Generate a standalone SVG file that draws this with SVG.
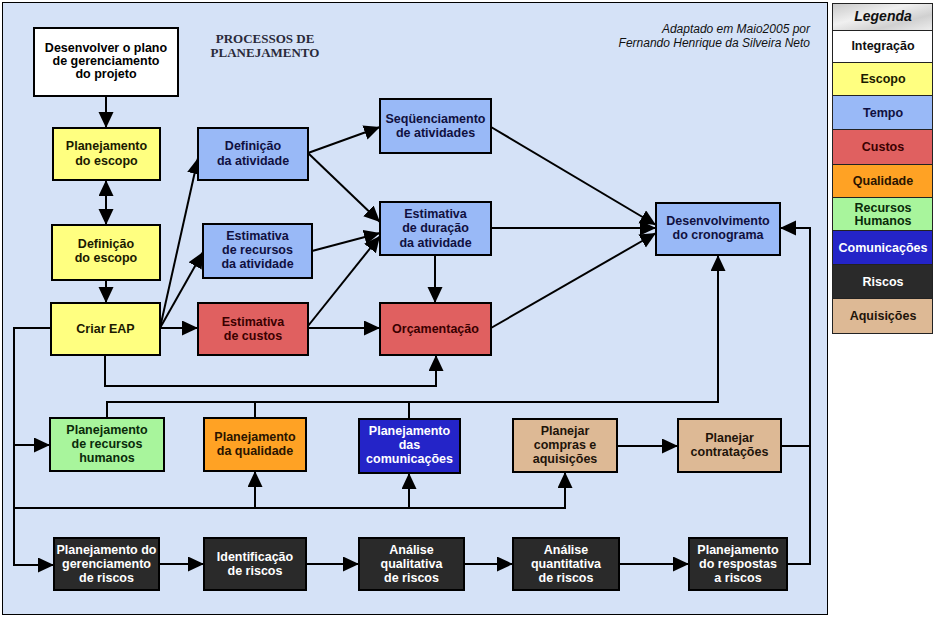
<svg xmlns="http://www.w3.org/2000/svg" width="937" height="618" viewBox="0 0 937 618">
<style>
.bx{stroke:#000;stroke-width:2}
.t{font-family:"Liberation Sans",Arial,sans-serif;font-weight:bold;font-size:12.5px;text-anchor:middle}
.c{fill:none;stroke:#000;stroke-width:2}
.a{marker-end:url(#ah)}
.lg{stroke:#222;stroke-width:1}
</style>
<defs>
<marker id="ah" markerUnits="userSpaceOnUse" markerWidth="17" markerHeight="16" refX="16" refY="7.5" orient="auto-start-reverse"><path d="M0,0 L16,7.5 L0,15 Z" fill="#000"/></marker>
<linearGradient id="mg" x1="0" y1="0" x2="1" y2="1"><stop offset="0" stop-color="#c8c8c8"/><stop offset="0.4" stop-color="#f0f0f0"/><stop offset="0.7" stop-color="#d0d0d0"/><stop offset="1" stop-color="#eeeeee"/></linearGradient>
</defs>
<rect x="0" y="0" width="937" height="618" fill="#fff"/>
<rect x="2.5" y="2.5" width="825" height="612" fill="#d5e2f7" stroke="#000" stroke-width="1"/>
<text x="265" y="43" font-family="Liberation Serif,serif" font-weight="bold" font-size="13" text-anchor="middle" fill="#2a2a3a">PROCESSOS  DE</text>
<text x="265" y="57" font-family="Liberation Serif,serif" font-weight="bold" font-size="13" text-anchor="middle" fill="#2a2a3a">PLANEJAMENTO</text>
<text x="810" y="33" font-family="Liberation Sans,sans-serif" font-style="italic" font-size="12" text-anchor="end" fill="#111">Adaptado em Maio2005 por</text>
<text x="810" y="47" font-family="Liberation Sans,sans-serif" font-style="italic" font-size="12" text-anchor="end" fill="#111">Fernando Henrique da Silveira Neto</text>
<g id="connectors">
<path class="c a" d="M106,96 V128"/>
<path class="c a" d="M106,180 V225" marker-start="url(#ah)"/>
<path class="c a" d="M106,280 V303"/>
<path class="c a" d="M160,328 H198"/>
<path class="c a" stroke-width="1.6" d="M160,328 L198,158"/>
<path class="c a" stroke-width="1.6" d="M160,328 L203,252"/>
<path class="c a" d="M308,328 H380"/>
<path class="c a" stroke-width="1.6" d="M308,326 L380,236"/>
<path class="c a" stroke-width="1.6" d="M312,251 L380,233"/>
<path class="c a" stroke-width="1.6" d="M308,153 L380,222"/>
<path class="c a" stroke-width="1.6" d="M308,153 L380,127"/>
<path class="c a" stroke-width="1.6" d="M491,127 L656,225"/>
<path class="c a" stroke-width="1.6" d="M491,228 H656"/>
<path class="c a" stroke-width="1.6" d="M491,328 L656,233"/>
<path class="c a" d="M435,255 V303"/>
<path class="c a" d="M105,355 V386 H436 V355"/>
<path class="c a" d="M107,418 V402 H718 V255"/>
<path class="c" d="M255,418 V402 M409,419 V402"/>
<path class="c a" d="M787,564 H810 V228 H780"/>
<path class="c" d="M781,446 H810"/>
<path class="c a" d="M617,446 H678"/>
<path class="c a" d="M51,328 H14 V565 H54"/>
<path class="c a" d="M14,445 H50"/>
<path class="c a" d="M14,508 H565 V472"/>
<path class="c a" d="M255,508 V471"/>
<path class="c a" d="M409,508 V473"/>
<path class="c a" d="M159,564 H204"/>
<path class="c a" d="M306,564 H359"/>
<path class="c a" d="M464,564 H513"/>
<path class="c a" d="M619,564 H689"/>
</g>
<g id="n1"><rect class="bx" x="34" y="28" width="144" height="68" fill="#fff"/><text class="t" fill="#000"><tspan x="106" y="52">Desenvolver o plano</tspan><tspan x="106" y="65">de gerenciamento</tspan><tspan x="106" y="78">do projeto</tspan></text></g>
<g id="n2"><rect class="bx" x="53" y="128" width="107" height="52" fill="#ffff80"/><text class="t" fill="#1a1a00"><tspan x="106.5" y="150">Planejamento</tspan><tspan x="106.5" y="165">do escopo</tspan></text></g>
<g id="n3"><rect class="bx" x="52" y="225" width="108" height="55" fill="#ffff80"/><text class="t" fill="#1a1a00"><tspan x="106" y="248">Definição</tspan><tspan x="106" y="262">do escopo</tspan></text></g>
<g id="n4"><rect class="bx" x="51" y="303" width="109" height="52" fill="#ffff80"/><text class="t" fill="#1a1a00"><tspan x="105.5" y="333">Criar EAP</tspan></text></g>
<g id="n5"><rect class="bx" x="198" y="128" width="110" height="52" fill="#99b9f7"/><text class="t" fill="#101040"><tspan x="253" y="150">Definição</tspan><tspan x="253" y="165">da atividade</tspan></text></g>
<g id="n6"><rect class="bx" x="203" y="224" width="109" height="54" fill="#99b9f7"/><text class="t" fill="#101040"><tspan x="257.5" y="240">Estimativa</tspan><tspan x="257.5" y="254">de recursos</tspan><tspan x="257.5" y="268">da atividade</tspan></text></g>
<g id="n7"><rect class="bx" x="198" y="303" width="110" height="52" fill="#e06060"/><text class="t" fill="#3a0000"><tspan x="253" y="326">Estimativa</tspan><tspan x="253" y="340">de custos</tspan></text></g>
<g id="n8"><rect class="bx" x="380" y="99" width="111" height="54" fill="#99b9f7"/><text class="t" fill="#101040"><tspan x="435.5" y="123">Seqüenciamento</tspan><tspan x="435.5" y="137">de atividades</tspan></text></g>
<g id="n9"><rect class="bx" x="380" y="202" width="111" height="53" fill="#99b9f7"/><text class="t" fill="#101040"><tspan x="435.5" y="218">Estimativa</tspan><tspan x="435.5" y="232">de duração</tspan><tspan x="435.5" y="247">da atividade</tspan></text></g>
<g id="n10"><rect class="bx" x="380" y="303" width="111" height="52" fill="#e06060"/><text class="t" fill="#3a0000"><tspan x="435.5" y="333">Orçamentação</tspan></text></g>
<g id="n11"><rect class="bx" x="656" y="203" width="124" height="52" fill="#99b9f7"/><text class="t" fill="#101040"><tspan x="718" y="225">Desenvolvimento</tspan><tspan x="718" y="239">do cronograma</tspan></text></g>
<g id="n12"><rect class="bx" x="50" y="418" width="114" height="53" fill="#a8f59c"/><text class="t" fill="#0a2a0a"><tspan x="107" y="434">Planejamento</tspan><tspan x="107" y="448">de recursos</tspan><tspan x="107" y="462">humanos</tspan></text></g>
<g id="n13"><rect class="bx" x="204" y="418" width="102" height="53" fill="#ffa224"/><text class="t" fill="#2a1400"><tspan x="255" y="441">Planejamento</tspan><tspan x="255" y="455">da qualidade</tspan></text></g>
<g id="n14"><rect class="bx" x="359" y="419" width="101" height="54" fill="#2424c8"/><text class="t" fill="#fff"><tspan x="409.5" y="435">Planejamento</tspan><tspan x="409.5" y="449">das</tspan><tspan x="409.5" y="463">comunicações</tspan></text></g>
<g id="n15"><rect class="bx" x="513" y="419" width="104" height="53" fill="#ddb995"/><text class="t" fill="#1e140a"><tspan x="565" y="435">Planejar</tspan><tspan x="565" y="449">compras e</tspan><tspan x="565" y="463">aquisições</tspan></text></g>
<g id="n16"><rect class="bx" x="678" y="419" width="103" height="53" fill="#ddb995"/><text class="t" fill="#1e140a"><tspan x="729.5" y="442">Planejar</tspan><tspan x="729.5" y="456">contratações</tspan></text></g>
<g id="n17"><rect class="bx" x="54" y="538" width="105" height="52" fill="#2a2a2a"/><text class="t" fill="#fff"><tspan x="106.5" y="554">Planejamento do</tspan><tspan x="106.5" y="568">gerenciamento</tspan><tspan x="106.5" y="582">de riscos</tspan></text></g>
<g id="n18"><rect class="bx" x="204" y="538" width="102" height="52" fill="#2a2a2a"/><text class="t" fill="#fff"><tspan x="255" y="561">Identificação</tspan><tspan x="255" y="575">de riscos</tspan></text></g>
<g id="n19"><rect class="bx" x="359" y="538" width="105" height="52" fill="#2a2a2a"/><text class="t" fill="#fff"><tspan x="411.5" y="554">Análise</tspan><tspan x="411.5" y="568">qualitativa</tspan><tspan x="411.5" y="582">de riscos</tspan></text></g>
<g id="n20"><rect class="bx" x="513" y="538" width="106" height="52" fill="#2a2a2a"/><text class="t" fill="#fff"><tspan x="566" y="554">Análise</tspan><tspan x="566" y="568">quantitativa</tspan><tspan x="566" y="582">de riscos</tspan></text></g>
<g id="n21"><rect class="bx" x="689" y="538" width="98" height="52" fill="#2a2a2a"/><text class="t" fill="#fff"><tspan x="738" y="554">Planejamento</tspan><tspan x="738" y="568">do respostas</tspan><tspan x="738" y="582">a riscos</tspan></text></g>
<g id="legend">
<rect class="lg" x="832.5" y="3.5" width="100" height="27" fill="url(#mg)"/>
<text x="883" y="21" font-family="Liberation Sans,sans-serif" font-weight="bold" font-style="italic" font-size="14" text-anchor="middle" fill="#111">Legenda</text>
<rect class="lg" x="832.5" y="30.5" width="100" height="32" fill="#fff"/>
<text class="t" x="883" y="50" fill="#111">Integração</text>
<rect class="lg" x="832.5" y="62.5" width="100" height="33" fill="#ffff80"/>
<text class="t" x="883" y="83" fill="#1a1a00">Escopo</text>
<rect class="lg" x="832.5" y="95.5" width="100" height="34" fill="#99b9f7"/>
<text class="t" x="883" y="117" fill="#101040">Tempo</text>
<rect class="lg" x="832.5" y="129.5" width="100" height="35" fill="#e06060"/>
<text class="t" x="883" y="151" fill="#3a0000">Custos</text>
<rect class="lg" x="832.5" y="164.5" width="100" height="33" fill="#ffa224"/>
<text class="t" x="883" y="185" fill="#2a1400">Qualidade</text>
<rect class="lg" x="832.5" y="197.5" width="100" height="33" fill="#a8f59c"/>
<text class="t" x="883" y="212" fill="#0a2a0a">Recursos</text>
<text class="t" x="883" y="225" fill="#0a2a0a">Humanos</text>
<rect class="lg" x="832.5" y="230.5" width="100" height="34" fill="#2424c8"/>
<text class="t" x="883" y="252" fill="#fff">Comunicações</text>
<rect class="lg" x="832.5" y="264.5" width="100" height="34" fill="#2a2a2a"/>
<text class="t" x="883" y="286" fill="#fff">Riscos</text>
<rect class="lg" x="832.5" y="298.5" width="100" height="35" fill="#ddb995"/>
<text class="t" x="883" y="320" fill="#1e140a">Aquisições</text>
</g>
</svg>
